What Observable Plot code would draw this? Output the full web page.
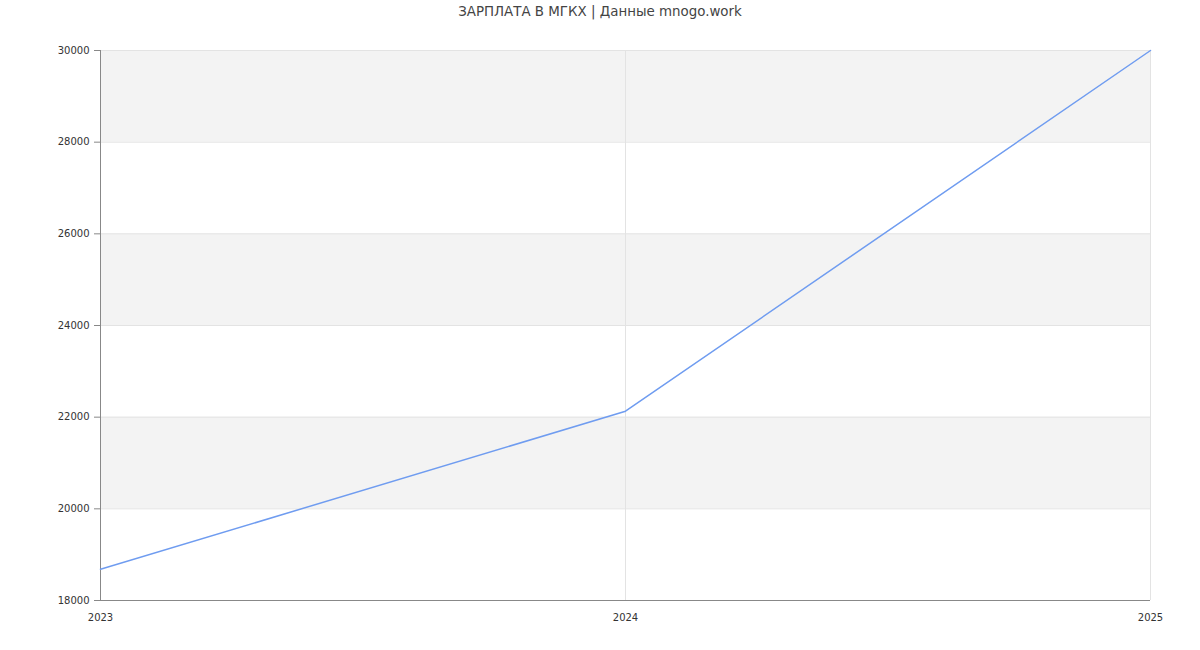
<!DOCTYPE html>
<html><head><meta charset="utf-8">
<script src="https://cdn.jsdelivr.net/npm/d3@7"></script>
<script src="https://cdn.jsdelivr.net/npm/@observablehq/plot@0.6"></script>
<style>
body{margin:0;background:#fff;font-family:"DejaVu Sans",sans-serif;}
#title{height:25px;line-height:24px;text-align:center;font-size:13.4px;color:#444;}
</style></head>
<body>
<div id="title">ЗАРПЛАТА В МГКХ | Данные mnogo.work</div>
<div id="chart"></div>
<script>
const years = [2023, 2024, 2025];
const salaries = [18680, 22130, 30000];
const yTicks = [18000, 20000, 22000, 24000, 26000, 28000, 30000];
const bandLow = [20000, 24000, 28000];
const bandHigh = [22000, 26000, 30000];

const data = years.map((y, i) => ({year: y, value: salaries[i]}));
const bands = bandLow.map((b, i) => ({y1: b, y2: bandHigh[i]}));

const chart = Plot.plot({
  width: 1200,
  height: 625,
  marginTop: 25,
  marginBottom: 50,
  marginLeft: 100,
  marginRight: 50,
  style: {fontFamily: "DejaVu Sans, sans-serif", fontSize: "10px", color: "#333", background: "#fff"},
  x: {type: "linear", domain: [2023, 2025], label: null},
  y: {domain: [18000, 30000], label: null},
  marks: [
    Plot.rectY(bands, {x1: 2023, x2: 2025, y1: "y1", y2: "y2", fill: "#f3f3f3"}),
    Plot.ruleY(yTicks.slice(1), {stroke: "#e3e3e3", strokeWidth: 1}),
    Plot.ruleX(years.slice(1), {stroke: "#e3e3e3", strokeWidth: 1}),
    Plot.ruleX([2023], {stroke: "#888", strokeWidth: 1}),
    Plot.ruleY([18000], {stroke: "#888", strokeWidth: 1}),
    Plot.line(data, {x: "year", y: "value", stroke: "#6f9cf0", strokeWidth: 1.5}),
    Plot.axisY({ticks: yTicks, tickFormat: d => String(d), tickSize: 6, tickPadding: 5, stroke: "#888", label: null}),
    Plot.axisX({ticks: years, tickFormat: "d", tickSize: 0, tickPadding: 13, label: null})
  ]
});
document.getElementById("chart").appendChild(chart);
</script>
</body></html>
